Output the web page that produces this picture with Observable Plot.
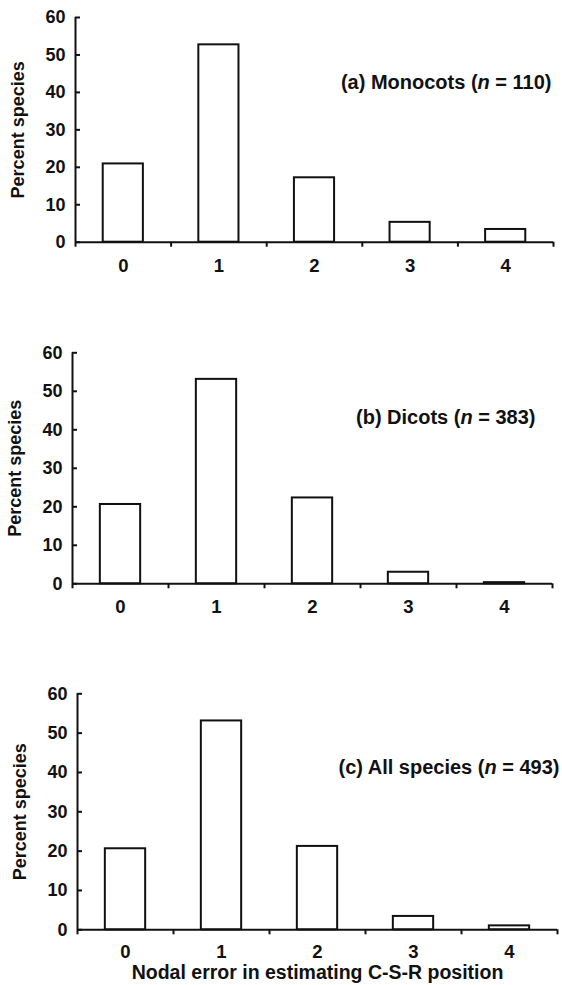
<!DOCTYPE html>
<html><head><meta charset="utf-8">
<script src="https://cdn.jsdelivr.net/npm/d3@7"></script>
<script src="https://cdn.jsdelivr.net/npm/@observablehq/plot@0.6"></script>
<style>
html,body{margin:0;padding:0;background:#fff;}
#chart{width:562px;height:985px;display:flex;flex-direction:column;}
#chart svg{display:block;overflow:visible;}
</style></head><body><div id="chart"></div>
<script>
// ---- data ----
const nodes = [0, 1, 2, 3, 4];                 // nodal error categories
const monocots = [20.9, 52.7, 17.2, 5.3, 3.4];  // percent species, (a)
const dicots = [20.6, 53.1, 22.3, 3.0, 0.3];    // percent species, (b)
const allSpecies = [20.6, 53.1, 21.2, 3.4, 1.0];// percent species, (c)
const panelNames = ["(a) Monocots", "(b) Dicots", "(c) All species"];
const sampleSizes = [110, 383, 493];
const yTicks = [0, 10, 20, 30, 40, 50, 60];
const yTitle = "Percent species";
const xTitle = "Nodal error in estimating C-S-R position";

const series = [monocots, dicots, allSpecies];
const boundaries = nodes.map(n => n - 0.5).concat([nodes[nodes.length - 1] + 0.5]);
const ink = "#111";
const halfBar = 0.21;

const layouts = [
  {height: 300, mt: 17,   mb: 58.3, ml: 75, mr: 9,  ldx: -2,  ldy: 65},
  {height: 340, mt: 52.3, mb: 56.7, ml: 72, mr: 10, ldx: -17, ldy: 64.4},
  {height: 345, mt: 53.3, mb: 55.7, ml: 77, mr: 5,  ldx: 2,   ldy: 73.4}
];

const chart = document.getElementById("chart");

series.forEach((vals, k) => {
  const L = layouts[k];
  const data = nodes.map((n, i) => ({node: n, pct: vals[i]}));
  const marks = [
    Plot.rectY(data, {x1: d => d.node - halfBar, x2: d => d.node + halfBar, y: "pct",
      fill: "white", stroke: ink, strokeWidth: 2}),
    Plot.ruleY([0], {stroke: ink, strokeWidth: 2}),
    Plot.ruleX([boundaries[0]], {stroke: ink, strokeWidth: 2}),
    Plot.axisY({ticks: yTicks, tickSize: -5, tickFormat: () => "", label: null, stroke: ink, strokeWidth: 2}),
    Plot.axisY({ticks: yTicks, tickSize: 0, tickPadding: 10, fontSize: 18, fill: ink, label: null,
      tickFormat: d => String(d)}),
    Plot.axisX({ticks: boundaries, tickSize: 5, tickFormat: () => "", label: null, stroke: ink, strokeWidth: 2}),
    Plot.axisX({ticks: nodes, tickSize: 0, tickPadding: k === 2 ? 15 : 16.5, fontSize: 18.5, fill: ink, label: null,
      tickFormat: d => String(d)}),
    Plot.text([yTitle], {frameAnchor: "left", rotate: -90, dx: -57, fontSize: 18,
      textAnchor: "middle", lineAnchor: "middle", fill: ink}),
    Plot.text([panelNames[k]], {frameAnchor: "top-right", dx: L.ldx, dy: L.ldy,
      textAnchor: "end", lineAnchor: "middle", fontSize: 20, fill: ink})
  ];
  if (k === 2) {
    marks.push(Plot.text([xTitle], {frameAnchor: "bottom", dy: 43, fontSize: 19.5,
      lineAnchor: "middle", fill: ink}));
  }
  const svg = Plot.plot({
    width: 562,
    height: L.height,
    marginTop: L.mt, marginBottom: L.mb, marginLeft: L.ml, marginRight: L.mr,
    x: {type: "linear", domain: [boundaries[0], boundaries[boundaries.length - 1]]},
    y: {domain: [0, 60]},
    style: {fontFamily: "'Liberation Sans', Arial, Helvetica, sans-serif", fontWeight: "bold",
      fontSize: "18px", color: ink, background: "white", overflow: "visible"},
    marks
  });
  // italic n inside the panel label
  d3.select(svg).selectAll("text").filter(function () {
    return this.textContent === panelNames[k];
  }).each(function () {
    const t = d3.select(this);
    t.text(null);
    t.append("tspan").text(panelNames[k] + " (");
    t.append("tspan").attr("font-style", "italic").text("n");
    t.append("tspan").text(" = " + sampleSizes[k] + ")");
  });
  chart.appendChild(svg);
});
</script></body></html>
